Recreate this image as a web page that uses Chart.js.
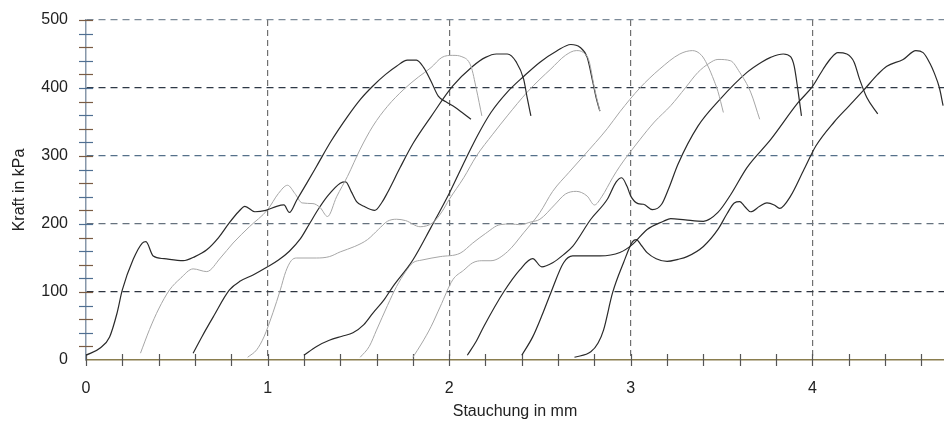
<!DOCTYPE html>
<html>
<head>
<meta charset="utf-8">
<script src="https://cdn.jsdelivr.net/npm/chart.js@4.4.0/dist/chart.umd.min.js"></script>
<style>
  html, body { margin: 0; padding: 0; background: #fff; }
  #wrap { width: 944px; height: 424px; }
</style>
</head>
<body>
<div id="wrap"><canvas id="chart"></canvas></div>
<script>
// Stauchung (mm) / Kraft (kPa) pairs
const probe1 = [[0,7],[0.08,18],[0.13,34],[0.17,68],[0.20,103],[0.26,148],[0.31,172],[0.33,174],[0.37,153],[0.43,149],[0.535,146],[0.60,152],[0.665,162],[0.73,180],[0.79,202],[0.84,218],[0.875,226],[0.93,218],[0.99,220],[1.05,226],[1.09,228],[1.12,217],[1.16,235],[1.22,262],[1.27,285],[1.35,322],[1.44,358],[1.51,383],[1.58,403],[1.65,420],[1.71,432],[1.77,441],[1.82,441],[1.86,430],[1.90,410],[1.94,388],[1.98,380],[2.03,372],[2.08,362],[2.12,354]];
const probe2 = [[0.30,10],[0.35,45],[0.40,75],[0.46,103],[0.52,120],[0.59,134],[0.665,130],[0.74,150],[0.81,172],[0.90,196],[1.0,221],[1.06,245],[1.11,257],[1.15,245],[1.19,231],[1.25,230],[1.29,224],[1.33,211],[1.38,240],[1.44,270],[1.51,310],[1.58,344],[1.66,373],[1.75,398],[1.83,416],[1.90,430],[1.96,445],[2.02,448],[2.07,446],[2.12,432],[2.15,398],[2.18,359]];
const probe3 = [[0.59,10],[0.64,35],[0.70,63],[0.79,103],[0.85,116],[0.92,125],[1.0,137],[1.06,147],[1.12,160],[1.18,178],[1.23,200],[1.28,222],[1.33,241],[1.40,260],[1.43,262],[1.46,248],[1.49,233],[1.53,226],[1.59,220],[1.63,232],[1.66,246],[1.73,283],[1.80,318],[1.90,358],[2.02,403],[2.13,432],[2.20,445],[2.26,450],[2.32,450],[2.37,438],[2.41,413],[2.43,385],[2.45,359]];
const probe4 = [[0.89,4],[0.94,15],[0.98,34],[1.03,70],[1.07,103],[1.10,130],[1.13,146],[1.16,150],[1.27,150],[1.34,152],[1.40,159],[1.48,167],[1.55,177],[1.61,192],[1.66,204],[1.71,207],[1.76,205],[1.84,196],[1.91,202],[1.96,218],[2.0,236],[2.08,268],[2.15,300],[2.24,332],[2.32,359],[2.43,394],[2.50,413],[2.56,428],[2.64,448],[2.70,455],[2.74,452],[2.77,440],[2.80,400],[2.83,366]];
const probe5 = [[1.20,7],[1.27,20],[1.34,29],[1.41,35],[1.47,40],[1.53,52],[1.58,69],[1.64,88],[1.69,108],[1.80,147],[1.90,195],[2.0,245],[2.09,295],[2.16,332],[2.23,364],[2.32,394],[2.41,417],[2.50,438],[2.59,454],[2.67,464],[2.72,460],[2.76,445],[2.79,410],[2.81,385],[2.83,366]];
const probe6 = [[1.51,4],[1.56,20],[1.60,44],[1.66,80],[1.71,108],[1.76,130],[1.80,143],[1.85,147],[1.95,152],[2.06,157],[2.13,172],[2.20,186],[2.28,199],[2.34,200],[2.39,199],[2.45,203],[2.50,207],[2.58,228],[2.64,244],[2.70,248],[2.76,241],[2.80,228],[2.84,240],[2.90,268],[2.94,285],[3.05,324],[3.13,350],[3.22,374],[3.30,400],[3.37,423],[3.43,436],[3.48,442],[3.55,440],[3.60,423],[3.66,394],[3.71,354]];
const probe7 = [[1.80,4],[1.85,25],[1.90,49],[1.95,78],[2.02,118],[2.08,132],[2.13,143],[2.18,146],[2.23,146],[2.32,159],[2.41,187],[2.50,217],[2.57,248],[2.66,276],[2.74,300],[2.87,340],[2.94,365],[3.05,400],[3.16,428],[3.27,450],[3.34,455],[3.39,448],[3.42,435],[3.46,410],[3.48,395],[3.51,364]];
const probe8 = [[2.10,7],[2.15,28],[2.19,49],[2.30,100],[2.39,133],[2.46,149],[2.51,137],[2.57,143],[2.63,155],[2.68,167],[2.78,207],[2.87,236],[2.92,262],[2.95,268],[2.98,255],[3.0,241],[3.04,230],[3.07,229],[3.12,221],[3.17,229],[3.21,253],[3.26,288],[3.37,344],[3.49,383],[3.64,423],[3.72,438],[3.77,445],[3.84,450],[3.88,446],[3.90,432],[3.92,398],[3.94,359]];
const probe9 = [[2.40,7],[2.46,34],[2.51,65],[2.56,99],[2.63,143],[2.68,153],[2.75,153],[2.83,153],[2.94,158],[3.01,170],[3.09,192],[3.18,204],[3.22,208],[3.30,206],[3.40,204],[3.48,217],[3.55,243],[3.64,283],[3.77,324],[3.92,378],[4.0,402],[4.06,428],[4.10,443],[4.14,452],[4.19,450],[4.23,438],[4.26,413],[4.30,386],[4.36,362]];
const probe10 = [[2.69,4],[2.78,12],[2.82,25],[2.85,44],[2.90,99],[2.96,143],[3.01,174],[3.03,177],[3.06,168],[3.09,158],[3.14,149],[3.20,145],[3.26,148],[3.31,152],[3.40,167],[3.48,192],[3.53,215],[3.57,231],[3.60,233],[3.63,225],[3.66,218],[3.71,226],[3.75,231],[3.79,228],[3.82,223],[3.88,241],[3.95,278],[4.02,315],[4.12,350],[4.20,373],[4.28,396],[4.36,420],[4.41,432],[4.50,442],[4.57,455],[4.61,452],[4.65,435],[4.67,423],[4.70,400],[4.72,374]];

const probes = [probe1, probe2, probe3, probe4, probe5, probe6, probe7, probe8, probe9, probe10];
const faintProbes = [1, 3, 5, 6];   // index of the pale (grey) traces

const xTicks = [0, 1, 2, 3, 4];
const yTicks = [0, 100, 200, 300, 400, 500];

const FONT = { family: '"Liberation Sans", Arial, sans-serif', size: 16 };

// horizontal grid colours like the scan (some darker, some bluish)
const yGridColor = { 0: 'rgba(0,0,0,0)', 100: '#2e3540', 200: '#66727e', 300: '#55708a', 400: '#2e3846', 500: '#7c8a98' };

// small axis ticks (every 0.2 mm / 20 kPa)
const minorTicks = {
    id: 'minorTicks',
    beforeDatasetsDraw(chart) {
        const { ctx, scales: { x, y } } = chart;
        const x0 = x.getPixelForValue(0);
        const y0 = y.getPixelForValue(0);
        ctx.save();
        ctx.lineWidth = 1.2;
        for (let i = 0; i <= 23; i++) {
            const px = Math.round(x.getPixelForValue(i * 0.2)) + 0.5;
            ctx.strokeStyle = '#555';
            ctx.beginPath();
            ctx.moveTo(px, y0 - 6);
            ctx.lineTo(px, y0 + 6);
            ctx.stroke();
        }
        for (let i = 1; i <= 25; i++) {
            const py = Math.round(y.getPixelForValue(i * 20)) + 0.5;
            ctx.strokeStyle = i % 2 ? '#7a5c44' : '#4f6f92';
            ctx.beginPath();
            ctx.moveTo(x0 - 7, py);
            ctx.lineTo(x0 + 7, py);
            ctx.stroke();
        }
        ctx.restore();
    }
};

const datasets = probes.map((pts, i) => {
    const faint = faintProbes.includes(i);
    return {
        label: 'Probe ' + (i + 1),
        data: pts.map(p => ({ x: p[0], y: p[1] })),
        showLine: true,
        borderColor: faint ? '#a6a6a6' : '#2a2a2a',
        borderWidth: faint ? 1 : 1.2,
        pointRadius: 0,
        cubicInterpolationMode: 'monotone',
        fill: false
    };
});

new Chart(document.getElementById('chart'), {
    type: 'scatter',
    data: { datasets: datasets },
    options: {
        responsive: true,
        maintainAspectRatio: false,
        animation: false,
        layout: { padding: { top: 20, right: 0, left: 0, bottom: 0 } },
        plugins: {
            legend: { display: false },
            tooltip: { enabled: false }
        },
        scales: {
            x: {
                type: 'linear',
                min: 0,
                max: 4.725,
                afterBuildTicks: s => { s.ticks = xTicks.map(v => ({ value: v })); },
                afterFit: s => { s.height = 64; },
                grid: {
                    color: c => (c.tick && c.tick.value === 0) ? 'rgba(0,0,0,0)' : '#707070',
                    lineWidth: 1.2,
                    drawTicks: true,
                    tickLength: 19,
                    tickColor: 'rgba(0,0,0,0)'
                },
                border: { display: true, color: '#8a7d4e', width: 1.5, dash: [6, 4] },
                ticks: { padding: 0, color: '#222', font: FONT },
                title: { display: true, text: 'Stauchung in mm', color: '#222', font: FONT, padding: { top: 0, bottom: 3 } }
            },
            y: {
                min: 0,
                max: 500,
                afterBuildTicks: s => { s.ticks = yTicks.map(v => ({ value: v })); },
                afterFit: s => { s.width = 86; },
                grid: {
                    color: c => (c.tick ? yGridColor[c.tick.value] : '#666'),
                    lineWidth: 1.2,
                    drawTicks: true,
                    tickLength: 18,
                    tickColor: 'rgba(0,0,0,0)'
                },
                border: { display: true, color: '#8797aa', width: 1.5, dash: [7, 5] },
                ticks: { padding: 0, color: '#222', font: FONT },
                title: { display: true, text: 'Kraft in kPa', color: '#222', font: FONT, padding: { top: 10, bottom: 0 } }
            }
        }
    },
    plugins: [minorTicks]
});
</script>
</body>
</html>
